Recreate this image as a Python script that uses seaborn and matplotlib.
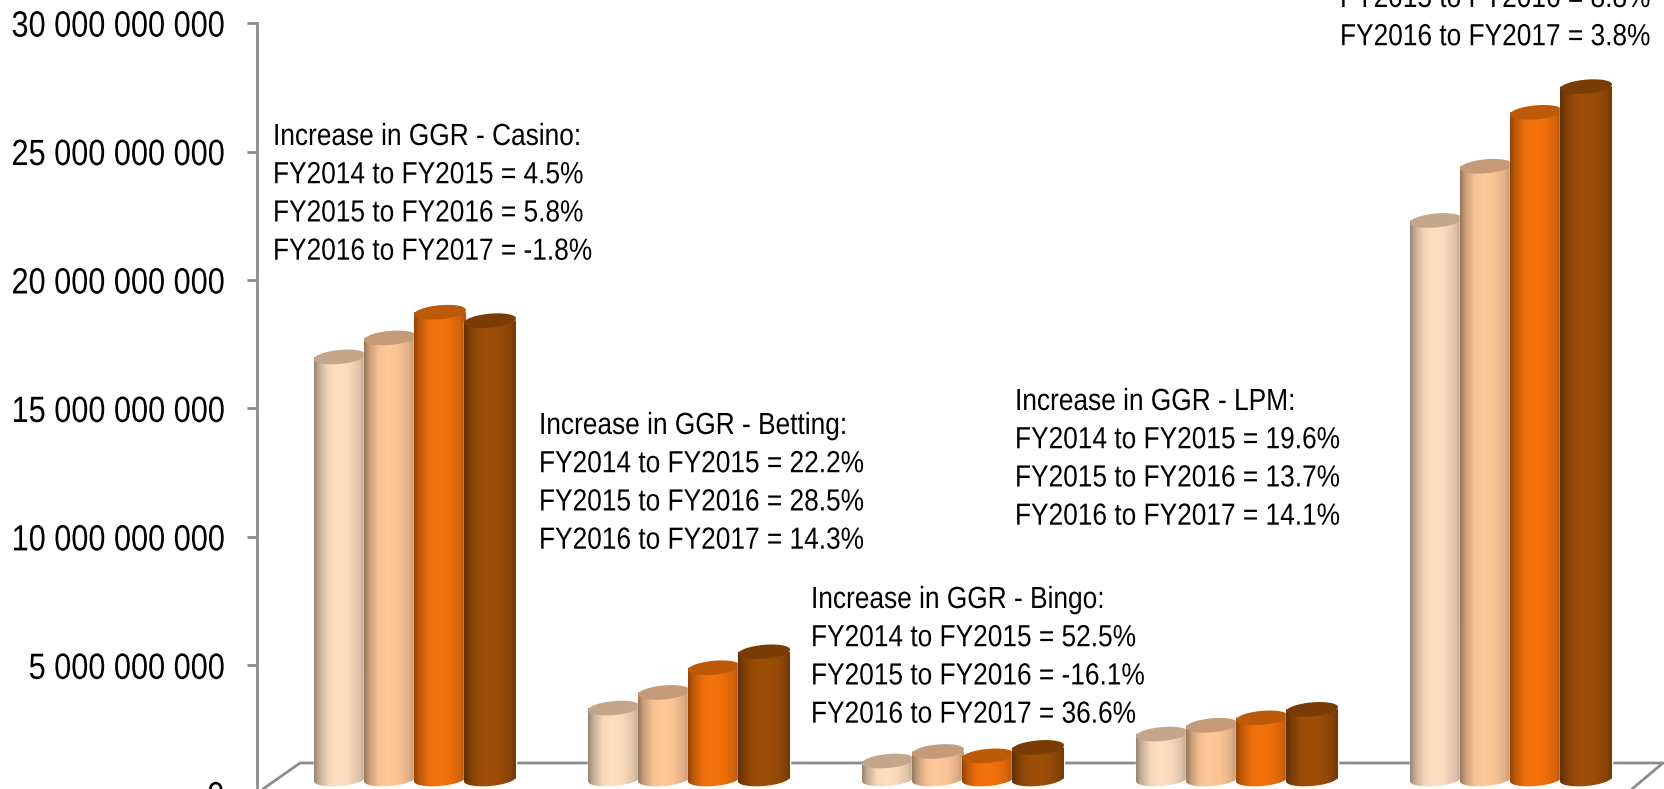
import numpy as np
import pandas as pd
import matplotlib
matplotlib.use("Agg")
import matplotlib.pyplot as plt
import seaborn as sns
from matplotlib.patches import Polygon
from matplotlib.patheffects import AbstractPathEffect
from matplotlib.transforms import Affine2D
from matplotlib.colors import LinearSegmentedColormap, to_rgb

categories = ["Casino", "Betting", "Bingo", "LPM", "Lotto"]
years = ["FY2014", "FY2015", "FY2016", "FY2017"]
fy2014 = [16.43e9, 2.76e9, 0.70e9, 1.75e9, 21.74e9]
fy2015 = [17.17e9, 3.37e9, 1.07e9, 2.09e9, 23.85e9]
fy2016 = [18.17e9, 4.33e9, 0.90e9, 2.38e9, 25.95e9]
fy2017 = [17.84e9, 4.95e9, 1.23e9, 2.71e9, 26.95e9]
colors = ["#FFDFC2", "#FFC898", "#F4720B", "#9E4E07"]
cap_colors = ["#C4A68B", "#C49A78", "#BC5A08", "#7A3C05"]
tick_values = [0, 5e9, 10e9, 15e9, 20e9, 25e9, 30e9]
tick_labels = ["0", "5 000 000 000", "10 000 000 000", "15 000 000 000",
               "20 000 000 000", "25 000 000 000", "30 000 000 000"]
notes = [
    ("Increase in GGR - Casino:\nFY2014 to FY2015 = 4.5%\nFY2015 to FY2016 = 5.8%\nFY2016 to FY2017 = -1.8%", 273, 122),
    ("Increase in GGR - Betting:\nFY2014 to FY2015 = 22.2%\nFY2015 to FY2016 = 28.5%\nFY2016 to FY2017 = 14.3%", 539, 411),
    ("Increase in GGR - Bingo:\nFY2014 to FY2015 = 52.5%\nFY2015 to FY2016 = -16.1%\nFY2016 to FY2017 = 36.6%", 811, 585),
    ("Increase in GGR - LPM:\nFY2014 to FY2015 = 19.6%\nFY2015 to FY2016 = 13.7%\nFY2016 to FY2017 = 14.1%", 1015, 387),
    ("FY2015 to FY2016 = 8.8%\nFY2016 to FY2017 = 3.8%", 1340, -16),
]

W, H = 1664, 789
sns.set_theme(style="white")
plt.rcParams["font.family"] = ["Liberation Sans", "DejaVu Sans"]
GRAY = "#8C8C8C"


class Condense(AbstractPathEffect):
    """Narrow the glyphs horizontally around a fixed pixel column."""

    def __init__(self, x0, factor):
        super().__init__()
        self.x0, self.factor = x0, factor

    def draw_path(self, renderer, gc, tpath, affine, rgbFace=None):
        squeeze = Affine2D().translate(-self.x0, 0).scale(self.factor, 1).translate(self.x0, 0)
        renderer.draw_path(gc, tpath, affine + squeeze, rgbFace)


fig = plt.figure(figsize=(W / 100, H / 100), dpi=100)
PX_ZERO, PX_PER_UNIT = 793.8, 128.45 / 5e9
ax = fig.add_axes([257 / W, (H - PX_ZERO) / H, 1 - 257 / W, PX_ZERO / H])

df = pd.DataFrame({"category": categories, "FY2014": fy2014, "FY2015": fy2015,
                   "FY2016": fy2016, "FY2017": fy2017}).melt(
    id_vars="category", var_name="year", value_name="ggr")
floor = 14.8 / PX_PER_UNIT
sns.barplot(data=df, x="category", y="ggr", hue="year", hue_order=years,
            order=categories, palette=colors, width=0.73, saturation=1,
            legend=False, bottom=floor, ax=ax)

x_left = (257 - 415) / 274
x_right = (W - 415) / 274
xpx = 274.0
px_y = lambda p: (PX_ZERO - p) / PX_PER_UNIT
px_x = lambda p: (p - 415) / xpx


def shade(c, f):
    return tuple(np.array(to_rgb(c)) * f)


def cap(cx, cy, a):
    t = np.linspace(0, 2 * np.pi, 90)
    return np.column_stack([cx + a * np.cos(t),
                            cy + (7.0 * np.sin(t) + 2.2 * np.cos(t)) / PX_PER_UNIT])


bars = [b for b in ax.patches if b.get_height() > 0]
bars.sort(key=lambda b: b.get_x())
cap_of = {to_rgb(c): k for c, k in zip(colors, cap_colors)}
for i, bar in enumerate(bars):
    color = to_rgb(bar.get_facecolor()[:3])
    width = bar.get_width() * 1.04
    cx = bar.get_x() + bar.get_width() / 2
    y0 = bar.get_y()
    y1 = y0 + bar.get_height()
    bar.set_x(cx - width / 2)
    bar.set_width(width)
    z = 3 + i * 0.01
    bar.set_zorder(z)
    a = width / 2
    lo = cap(cx, y0, a)
    lo = lo[(np.sin(np.linspace(0, 2 * np.pi, 90)) <= 0)]
    lo = lo[np.argsort(lo[:, 0])]
    outline = np.vstack([lo, [[cx + a, y1], [cx - a, y1]]])
    clip = Polygon(outline, closed=True, transform=ax.transData)
    cmap = LinearSegmentedColormap.from_list("g", [
        (0.0, shade(color, 0.60)), (0.10, shade(color, 0.78)), (0.28, shade(color, 0.97)),
        (0.45, color), (0.65, shade(color, 0.98)), (0.85, shade(color, 0.88)),
        (1.0, shade(color, 0.72))])
    im = ax.imshow(np.linspace(0, 1, 128)[None, :], cmap=cmap, aspect="auto",
                   extent=[cx - a, cx + a, y0 - 10 / PX_PER_UNIT, y1], zorder=z + 0.001,
                   interpolation="bilinear")
    im.set_clip_path(clip)
    key = min(cap_of, key=lambda k: sum((p - q) ** 2 for p, q in zip(k, color)))
    ax.add_patch(Polygon(cap(cx, y1, a), closed=True, facecolor=cap_of[key],
                         edgecolor="none", zorder=z + 0.002))

ax.set_xlim(x_left, x_right)
ax.set_ylim(0, PX_ZERO / PX_PER_UNIT)

# floor of the 3-D box
floor_kw = dict(color=GRAY, lw=2.0, clip_on=False, zorder=1, solid_capstyle="round")
ax.plot([px_x(263), px_x(300), px_x(1663), px_x(1632)],
        [px_y(789), px_y(763), px_y(763), px_y(789)], **floor_kw)

for s in ["top", "right", "bottom"]:
    ax.spines[s].set_visible(False)
ax.spines["left"].set_color(GRAY)
ax.spines["left"].set_linewidth(2.0)
ax.spines["left"].set_bounds(0, 30e9)
ax.set_yticks(tick_values)
ax.set_yticklabels(tick_labels)
ax.tick_params(axis="y", left=True, length=7.2, width=2.0, color=GRAY, pad=16.5,
               labelsize=26.3, labelcolor="black")
for lab in ax.get_yticklabels():
    lab.set_path_effects([Condense(225, 0.84)])
ax.set_xticks([])
ax.set_xlabel("")
ax.set_ylabel("")

for txt, x, y in notes:
    fig.text(x / W, 1 - y / H, txt, ha="left", va="top", fontsize=22,
             linespacing=1.358, color="black", path_effects=[Condense(x, 0.86)])

fig.savefig("out.png", dpi=100)
